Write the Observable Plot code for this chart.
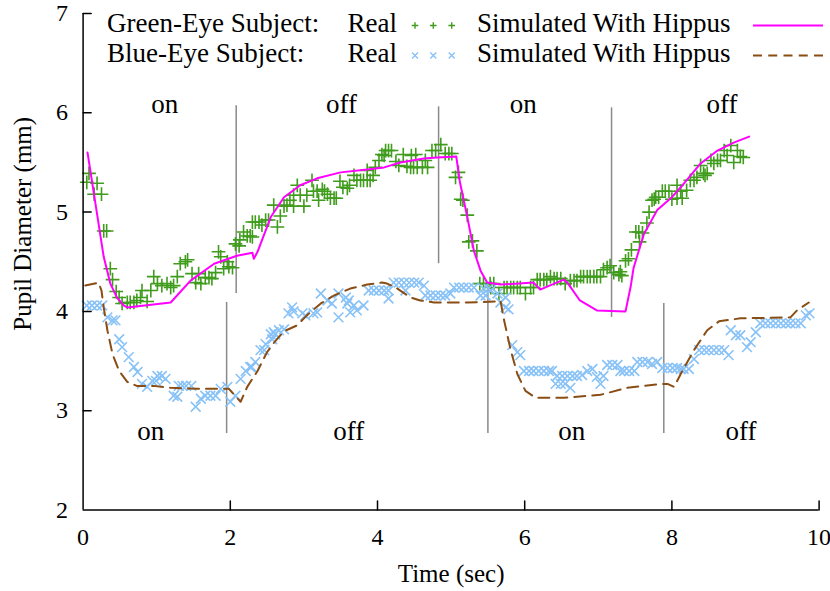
<!DOCTYPE html>
<html><head><meta charset="utf-8">
<script src="https://cdn.jsdelivr.net/npm/d3@7"></script>
<script src="https://cdn.jsdelivr.net/npm/@observablehq/plot@0.6"></script>
<style>
html,body{margin:0;padding:0;background:#fff;}
#wrap{position:relative;width:830px;height:591px;}
#wrap svg{display:block;}
#legend{position:absolute;left:0;top:0;pointer-events:none;}
</style></head><body><div id="wrap"></div>
<script>
// ---- axes ----
const xDomain = [0, 10];
const yDomain = [2, 7];
const xTicks = [0, 2, 4, 6, 8, 10];
const yTicks = [2, 3, 4, 5, 6, 7];

// ---- Green-eye subject, real measurements ----
const greenRealTime = [0.05,0.08,0.15,0.19,0.25,0.28,0.32,0.37,0.40,0.45,0.49,0.53,0.60,0.64,0.69,0.73,0.78,0.87,0.80,0.92,0.96,1.01,1.07,1.14,1.19,1.23,1.28,1.32,1.39,1.42,1.48,1.53,1.57,1.60,1.66,1.71,1.75,1.80,1.84,1.87,1.91,1.96,1.98,2.03,2.07,2.12,2.13,2.18,2.23,2.27,2.30,2.30,2.34,2.39,2.43,2.48,2.52,2.59,2.64,2.68,2.73,2.77,2.81,2.86,2.91,2.86,2.95,3.04,3.00,3.11,3.13,3.18,3.20,3.25,3.28,3.32,3.36,3.41,3.44,3.49,3.53,3.59,3.62,3.68,3.72,3.77,3.81,3.86,3.90,3.86,3.94,3.97,4.02,4.06,4.11,4.15,4.19,4.09,4.25,4.29,4.35,4.40,4.45,4.49,4.54,4.61,4.68,4.46,4.52,4.65,4.74,4.79,4.86,4.92,4.97,5.01,5.06,5.10,5.13,5.16,5.22,5.24,5.29,5.35,5.39,5.44,5.53,5.58,5.54,5.65,5.72,5.76,5.81,5.85,5.90,5.94,6.01,6.08,6.12,6.17,6.21,6.26,6.30,6.35,6.40,6.44,6.49,6.55,6.62,6.67,6.71,6.76,6.80,6.85,6.89,6.94,6.98,7.03,7.07,7.12,7.16,7.21,7.28,7.32,7.30,7.37,7.41,7.45,7.51,7.55,7.56,7.60,7.66,7.69,7.73,7.76,7.78,7.82,7.87,7.91,7.96,8.00,8.07,8.07,8.12,8.14,8.20,8.25,8.30,8.34,8.39,8.43,8.48,8.45,8.53,8.57,8.62,8.66,8.71,8.75,8.80,8.84,8.89,8.93,8.97];
const greenRealDiam = [5.30,5.39,5.18,5.29,5.18,4.81,4.81,4.43,4.32,4.20,4.14,4.08,4.09,4.09,4.09,4.11,4.14,4.10,4.21,4.21,4.35,4.28,4.26,4.28,4.24,4.26,4.35,4.48,4.50,4.52,4.38,4.29,4.38,4.28,4.34,4.34,4.33,4.39,4.60,4.55,4.43,4.50,4.45,4.44,4.68,4.66,4.72,4.80,4.76,4.76,4.90,4.75,4.90,4.90,4.87,4.92,4.92,5.07,4.85,4.96,5.06,5.07,5.12,5.06,5.27,5.17,5.17,5.17,5.06,5.32,5.21,5.21,5.12,5.23,5.21,5.18,5.14,5.14,5.14,5.31,5.25,5.24,5.27,5.37,5.32,5.32,5.32,5.32,5.32,5.42,5.37,5.45,5.52,5.58,5.62,5.62,5.62,5.57,5.51,5.47,5.58,5.46,5.45,5.45,5.45,5.45,5.45,5.57,5.58,5.52,5.62,5.62,5.68,5.59,5.59,5.59,5.35,5.40,5.13,5.12,4.97,4.70,4.71,4.61,4.28,4.28,4.28,4.28,4.24,4.18,4.24,4.24,4.24,4.24,4.24,4.24,4.18,4.24,4.24,4.32,4.32,4.32,4.32,4.35,4.33,4.33,4.33,4.28,4.31,4.31,4.31,4.35,4.35,4.35,4.35,4.35,4.35,4.35,4.42,4.44,4.46,4.39,4.37,4.36,4.40,4.51,4.53,4.62,4.80,4.80,4.70,4.79,4.89,5.00,5.12,5.13,5.15,5.15,5.21,5.21,5.21,5.13,5.14,5.27,5.21,5.14,5.22,5.32,5.32,5.35,5.47,5.39,5.39,5.37,5.52,5.49,5.52,5.52,5.62,5.57,5.67,5.50,5.62,5.56,5.55];

// ---- Green-eye subject, simulated with hippus ----
const greenSimTime = [0.06,0.19,0.28,0.37,0.46,0.55,0.60,1.19,1.46,1.78,2.09,2.30,2.32,2.37,2.55,2.73,2.95,3.18,3.50,3.86,4.09,4.31,4.63,4.81,5.07,5.12,5.22,5.31,5.40,5.49,5.67,6.12,6.21,6.53,6.58,6.75,6.98,7.37,7.44,7.48,7.62,7.80,8.00,8.12,8.39,8.62,8.84,9.05];
const greenSimDiam = [5.60,4.98,4.55,4.28,4.14,4.06,4.04,4.09,4.31,4.48,4.56,4.59,4.53,4.60,4.95,5.15,5.27,5.34,5.40,5.43,5.45,5.50,5.54,5.55,5.56,5.30,4.95,4.61,4.41,4.29,4.27,4.29,4.22,4.32,4.29,4.11,4.01,4.00,4.25,4.44,4.78,5.02,5.15,5.25,5.49,5.62,5.70,5.76];

// ---- Blue-eye subject, real measurements ----
const blueRealTime = [0.05,0.12,0.19,0.26,0.33,0.40,0.44,0.49,0.53,0.62,0.69,0.74,0.80,0.87,0.94,0.99,1.01,1.07,1.12,1.23,1.28,1.30,1.35,1.40,1.47,1.53,1.60,1.66,1.73,1.80,1.87,1.96,2.00,2.07,2.14,2.21,2.27,2.34,2.29,2.41,2.46,2.48,2.55,2.57,2.59,2.61,2.66,2.73,2.79,2.84,2.86,2.98,3.02,3.13,3.18,3.23,3.32,3.38,3.47,3.47,3.57,3.61,3.59,3.68,3.63,3.72,3.81,3.88,3.95,4.02,4.09,4.15,4.15,4.22,4.29,4.36,4.43,4.50,4.56,4.38,4.63,4.65,4.72,4.79,4.86,4.92,4.99,5.04,5.11,5.17,5.24,5.31,5.40,5.47,5.44,5.51,5.54,5.63,5.67,5.74,5.74,5.78,5.83,5.90,5.94,5.99,6.06,6.12,6.19,6.26,6.33,6.37,6.44,6.51,6.58,6.65,6.71,6.78,6.42,6.49,6.55,6.62,6.85,6.92,6.98,7.03,7.07,7.12,7.19,7.26,7.30,7.35,7.42,7.49,7.53,7.60,7.67,7.73,7.80,7.87,7.94,8.01,8.07,8.12,8.16,8.23,8.30,8.37,8.44,8.50,8.57,8.64,8.71,8.77,8.80,8.87,8.93,9.02,9.07,9.14,9.20,9.27,9.34,9.41,9.48,9.55,9.61,9.68,9.75,9.82,9.87];
const blueRealDiam = [4.06,4.06,4.06,4.06,3.94,3.91,3.91,3.72,3.64,3.54,3.44,3.39,3.27,3.24,3.30,3.30,3.35,3.35,3.32,3.15,3.14,3.25,3.25,3.25,3.25,3.04,3.12,3.15,3.15,3.15,3.22,3.24,3.09,3.15,3.32,3.40,3.44,3.49,3.44,3.61,3.61,3.67,3.77,3.72,3.79,3.77,3.81,3.82,3.98,4.04,4.00,3.98,3.96,3.98,3.99,4.18,4.11,4.08,3.94,4.18,4.14,4.11,4.08,4.06,3.99,4.01,4.06,4.21,4.21,4.21,4.21,4.21,4.13,4.29,4.29,4.29,4.29,4.29,4.29,4.21,4.26,4.16,4.16,4.16,4.16,4.16,4.18,4.24,4.24,4.24,4.24,4.24,4.16,4.16,4.23,4.23,4.21,4.18,4.09,4.14,4.04,4.02,3.66,3.59,3.56,3.40,3.40,3.40,3.40,3.40,3.40,3.40,3.35,3.35,3.35,3.35,3.35,3.36,3.27,3.27,3.27,3.23,3.40,3.42,3.34,3.27,3.35,3.46,3.46,3.46,3.40,3.40,3.40,3.40,3.49,3.49,3.49,3.47,3.49,3.43,3.43,3.43,3.43,3.42,3.42,3.42,3.52,3.61,3.61,3.61,3.61,3.61,3.61,3.56,3.81,3.76,3.76,3.64,3.69,3.79,3.88,3.88,3.88,3.88,3.88,3.88,3.88,3.88,3.88,3.96,3.98];

// ---- Blue-eye subject, simulated with hippus ----
const blueSimTime = [0.03,0.21,0.25,0.28,0.33,0.40,0.49,0.60,0.73,0.96,1.19,1.55,1.98,2.14,2.23,2.37,2.50,2.60,2.73,2.91,3.04,3.23,3.41,3.63,3.86,4.06,4.13,4.27,4.45,4.58,4.77,5.22,5.63,5.67,5.72,5.81,5.90,6.01,6.15,6.53,7.03,7.39,7.85,7.94,8.03,8.12,8.30,8.48,8.64,8.93,9.61,9.70,9.86];
const blueSimDiam = [4.26,4.29,4.21,4.04,3.81,3.57,3.40,3.29,3.25,3.25,3.23,3.22,3.22,3.09,3.24,3.40,3.59,3.69,3.80,3.86,3.96,4.08,4.16,4.23,4.27,4.29,4.28,4.23,4.14,4.11,4.09,4.09,4.10,4.11,3.91,3.61,3.37,3.20,3.13,3.13,3.16,3.23,3.27,3.27,3.24,3.37,3.61,3.81,3.90,3.93,3.94,4.01,4.09];

// ---- stimulus switch markers ----
const greenSwitchTime = [2.08, 4.83, 7.18];
const greenSwitchLow = [4.18, 4.48, 3.94];
const greenSwitchHigh = [6.07, 6.06, 6.05];
const blueSwitchTime = [1.95, 5.50, 7.89];
const blueSwitchLow = [2.77, 2.77, 2.77];
const blueSwitchHigh = [4.09, 4.29, 4.08];

// ---- on/off labels ----
const labelText = ["on", "off", "on", "off", "on", "off", "on", "off"];
const labelTime = [1.11, 3.51, 5.98, 8.68, 0.92, 3.61, 6.64, 8.94];
const labelDiam = [6.08, 6.08, 6.08, 6.08, 2.79, 2.79, 2.79, 2.79];

// ---- legend ----
const legendSubjects = ["Green-Eye Subject:", "Blue-Eye Subject:"];
const legendReal = "Real";
const legendSim = "Simulated With Hippus";

const GREEN = "#3f9c1c", BLUE = "#88c2f7", MAGENTA = "#ff00ff", BROWN = "#8a4d14";
const FONT = "'Liberation Serif','Times New Roman',Times,serif";

const zip = (t, d) => t.map((v, i) => ({t: v, d: d[i]}));
const greenReal = zip(greenRealTime, greenRealDiam);
const greenSim = zip(greenSimTime, greenSimDiam);
const blueReal = zip(blueRealTime, blueRealDiam);
const blueSim = zip(blueSimTime, blueSimDiam);
const greenSwitch = greenSwitchTime.map((t, i) => ({t, lo: greenSwitchLow[i], hi: greenSwitchHigh[i]}));
const blueSwitch = blueSwitchTime.map((t, i) => ({t, lo: blueSwitchLow[i], hi: blueSwitchHigh[i]}));
const labels = labelText.map((s, i) => ({s, t: labelTime[i], d: labelDiam[i]}));

const tickShape = {draw(ctx, l) { ctx.moveTo(0, 0); ctx.lineTo(0, -l); }};

const chart = Plot.plot({
  width: 830, height: 591,
  marginTop: 13, marginBottom: 81.5, marginLeft: 82.6, marginRight: 11.4,
  style: {fontFamily: FONT, fontSize: "24px", color: "#000", background: "#fff", overflow: "visible"},
  x: {domain: xDomain},
  y: {domain: yDomain},
  marks: [
    Plot.ruleX(greenSwitch, {x: "t", y1: "lo", y2: "hi", stroke: "#8a8a8a", strokeWidth: 1.5}),
    Plot.ruleX(blueSwitch, {x: "t", y1: "lo", y2: "hi", stroke: "#8a8a8a", strokeWidth: 1.5}),
    Plot.dot(greenReal, {x: "t", y: "d", symbol: "plus", r: 4.5, stroke: GREEN, strokeWidth: 1.6}),
    Plot.dot(blueReal, {x: "t", y: "d", symbol: "times", r: 4.5, stroke: BLUE, strokeWidth: 1.6}),
    Plot.line(greenSim, {x: "t", y: "d", stroke: MAGENTA, strokeWidth: 2}),
    Plot.line(blueSim, {x: "t", y: "d", stroke: BROWN, strokeWidth: 2, strokeDasharray: "11,7"}),
    Plot.text(labels, {x: "t", y: "d", text: "s", fontSize: 27, fill: "#000"}),
    Plot.ruleY([yDomain[0]], {stroke: "#000", strokeWidth: 1.5}),
    Plot.ruleX([xDomain[0]], {stroke: "#000", strokeWidth: 1.5}),
    Plot.vector(xTicks.slice(1), {x: d => d, y: yDomain[0], length: 9, rotate: 0, anchor: "start", shape: tickShape, stroke: "#000", strokeWidth: 1.5}),
    Plot.vector(yTicks.slice(1), {x: xDomain[0], y: d => d, length: 8, rotate: 90, anchor: "start", shape: tickShape, stroke: "#000", strokeWidth: 1.5}),
    Plot.axisX({ticks: xTicks, tickSize: 0, tickPadding: 18, tickFormat: d => String(d), label: null, fontSize: 24}),
    Plot.axisY({ticks: yTicks, tickSize: 0, tickPadding: 15, tickFormat: d => String(d), label: null, fontSize: 24}),
    Plot.text(["Time (sec)"], {frameAnchor: "bottom", dy: 72, fontSize: 25, fill: "#000"}),
    Plot.text(["Pupil Diameter (mm)"], {frameAnchor: "left", dx: -60, dy: 69, rotate: -90, fontSize: 25, fill: "#000"})
  ]
});

const wrap = document.getElementById("wrap");
wrap.appendChild(chart);

// legend overlay
const lg = d3.select(wrap).append("svg").attr("id", "legend")
  .attr("width", 830).attr("height", 80)
  .style("font-family", FONT).style("font-size", "27px");
const rows = [32.3, 62.3];
legendSubjects.forEach((s, i) => {
  const y = rows[i];
  lg.append("text").attr("x", 107).attr("y", y).text(s);
  lg.append("text").attr("x", 347.5).attr("y", y).text(legendReal);
  lg.append("text").attr("x", 477).attr("y", y).text(legendSim);
  const cy = y - 6.8;
  [415, 433.3, 451.7].forEach(cx => {
    if (i === 0) {
      lg.append("path").attr("d", `M${cx-3.3},${cy}H${cx+3.3}M${cx},${cy-3.3}V${cy+3.3}`)
        .attr("stroke", GREEN).attr("stroke-width", 1.4).attr("fill", "none");
    } else {
      lg.append("path").attr("d", `M${cx-3},${cy-3}L${cx+3},${cy+3}M${cx-3},${cy+3}L${cx+3},${cy-3}`)
        .attr("stroke", BLUE).attr("stroke-width", 1.4).attr("fill", "none");
    }
  });
  lg.append("line").attr("x1", 753).attr("x2", 823).attr("y1", cy).attr("y2", cy)
    .attr("stroke", i === 0 ? MAGENTA : BROWN).attr("stroke-width", 2)
    .attr("stroke-dasharray", i === 0 ? null : "9,6.25");
});
</script></body></html>
